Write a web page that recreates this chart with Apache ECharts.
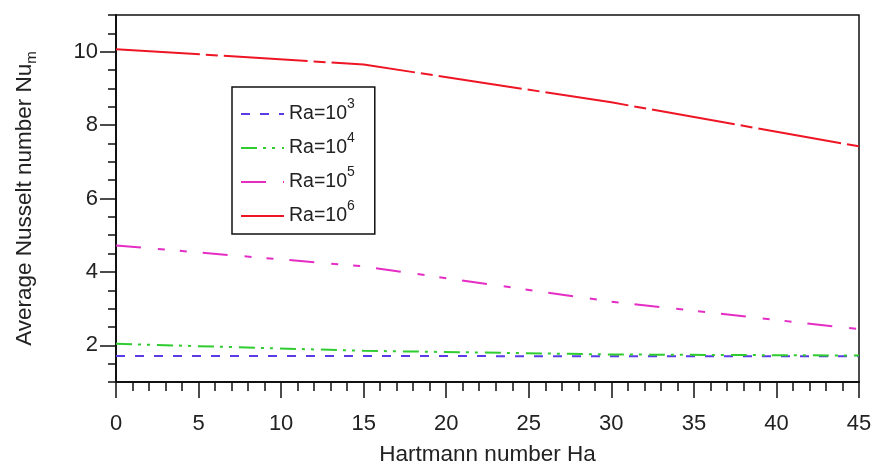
<!DOCTYPE html>
<html>
<head>
<meta charset="utf-8">
<script src="https://cdn.jsdelivr.net/npm/echarts@6/dist/echarts.min.js"></script>
<style>html,body{margin:0;padding:0;background:#fff}#c{width:874px;height:464px}</style>
</head>
<body>
<div id="c"></div>
<script>
// Data
var hartmann = [0, 15, 30, 45];
var nuRa1e3 = [1.71, 1.71, 1.70, 1.70];
var nuRa1e4 = [2.04, 1.85, 1.75, 1.72];
var nuRa1e5 = [4.72, 4.15, 3.19, 2.44];
var nuRa1e6 = [10.07, 9.65, 8.62, 7.42];
var seriesNames = ['Ra=10^3', 'Ra=10^4', 'Ra=10^5', 'Ra=10^6'];
var xTicks = [0, 5, 10, 15, 20, 25, 30, 35, 40, 45];
var yTicks = [2, 4, 6, 8, 10];

var FONT = '"Liberation Sans", Arial, sans-serif';
function pairs(xs, ys) { return xs.map(function (x, i) { return [x, ys[i]]; }); }

var styles = [
  { color: '#5a3be6', type: [9, 10] },
  { color: '#2fcc2f', type: [16, 6, 3, 6, 3, 7] },
  { color: '#e52dc4', type: [25, 17, 7, 15, 7, 16] },
  { color: '#ee1524', type: [84, 6, 12, 6] }
];
var values = [nuRa1e3, nuRa1e4, nuRa1e5, nuRa1e6];

var series = values.map(function (v, i) {
  return {
    name: seriesNames[i],
    type: 'line',
    data: pairs(hartmann, v),
    symbol: 'none',
    smooth: false,
    lineStyle: { color: styles[i].color, width: 2, type: styles[i].type },
    itemStyle: { color: styles[i].color },
    emphasis: { disabled: true },
    animation: false
  };
});

var chart = echarts.init(document.getElementById('c'), null, { renderer: 'canvas' });
chart.setOption({
  backgroundColor: '#fff',
  animation: false,
  grid: {
    left: 116, top: 15, right: 15, bottom: 82,
    containLabel: false,
    outerBoundsMode: 'none',
    show: true, borderColor: '#111', borderWidth: 1.5, backgroundColor: 'transparent'
  },
  legend: {
    orient: 'vertical',
    left: 232, top: 87,
    padding: [10, 20, 8, 8],
    itemGap: 7,
    itemWidth: 43,
    itemHeight: 14,
    backgroundColor: '#fff',
    borderColor: '#111',
    borderWidth: 1.5,
    borderRadius: 0,
    data: seriesNames,
    itemStyle: { color: 'transparent', borderColor: 'transparent', borderWidth: 0, opacity: 0 },
    formatter: function (name) {
      var p = name.split('^');
      return '{b|' + p[0] + '}{s|' + p[1] + '}';
    },
    textStyle: {
      fontFamily: FONT,
      color: '#222',
      rich: {
        b: { fontFamily: FONT, fontSize: 19.5, lineHeight: 34, color: '#222' },
        s: { fontFamily: FONT, fontSize: 14, lineHeight: 12, verticalAlign: 'top', color: '#222' }
      }
    }
  },
  xAxis: {
    type: 'value',
    min: 0, max: 45, interval: 5,
    name: 'Hartmann number Ha',
    nameLocation: 'middle',
    nameGap: 61,
    nameTextStyle: { fontFamily: FONT, fontSize: 22.5, color: '#222' },
    axisLine: { show: true, onZero: false, lineStyle: { color: '#111', width: 2 } },
    axisTick: { show: true, inside: false, length: 16, lineStyle: { color: '#111', width: 1.5 } },
    minorTick: { show: true, splitNumber: 5, length: 9, lineStyle: { color: '#111', width: 1.5 } },
    axisLabel: {
      fontFamily: FONT, fontSize: 22, color: '#222', margin: 31,
      customValues: xTicks
    },
    splitLine: { show: false },
    minorSplitLine: { show: false }
  },
  yAxis: [{
    type: 'value',
    min: 1, max: 11,
    name: '{a|Average Nusselt number Nu}{s|m}',
    nameLocation: 'middle',
    nameGap: 77,
    nameRotate: 90,
    nameTextStyle: {
      fontFamily: FONT, fontSize: 22.5, color: '#222',
      rich: {
        a: { fontFamily: FONT, fontSize: 22.5, lineHeight: 28, color: '#222' },
        s: { fontFamily: FONT, fontSize: 15, lineHeight: 15, verticalAlign: 'bottom', color: '#222' }
      }
    },
    axisLine: { show: true, onZero: false, lineStyle: { color: '#111', width: 2 } },
    axisTick: { show: true, inside: false, length: 16, customValues: yTicks, lineStyle: { color: '#111', width: 1.5 } },
    axisLabel: { fontFamily: FONT, fontSize: 22, color: '#222', margin: 18, customValues: yTicks },
    splitLine: { show: false }
  }, {
    type: 'value',
    position: 'left',
    min: 1, max: 11, interval: 0.5,
    axisLine: { show: false },
    axisTick: { show: true, inside: false, length: 8, lineStyle: { color: '#111', width: 1.5 } },
    axisLabel: { show: false },
    splitLine: { show: false }
  }],
  series: series
});
</script>
</body>
</html>
